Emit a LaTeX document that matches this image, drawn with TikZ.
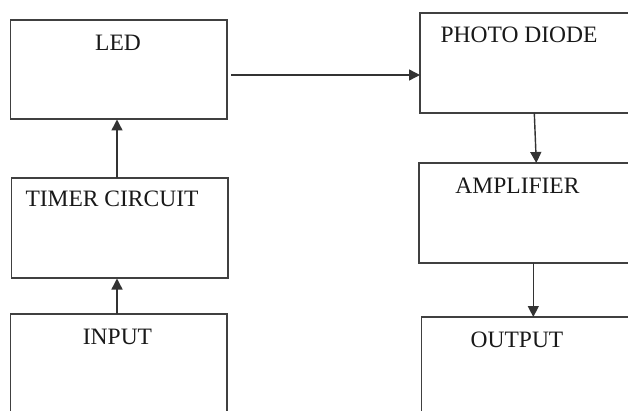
\documentclass[tikz,border=0pt]{standalone}
\usepackage{fontspec}
\setmainfont{Liberation Serif}
\usetikzlibrary{arrows.meta}
\begin{document}
\begin{tikzpicture}[x=1pt,y=-1pt,
  blk/.style={draw=black!75,line width=1.3pt,fill=none},
  lbl/.style={anchor=base,inner sep=0pt,text=black!90,font=\fontsize{23.5}{26}\selectfont},
  arr/.style={draw=black!80,line width=1.4pt,-{Triangle[length=11pt,width=11pt]}}]
\useasboundingbox[clip] (0,0) rectangle (628,411);
\fill[white] (0,0) rectangle (628,411);
% boxes
\draw[blk] (10.5,20) rectangle (227,119);
\node[inner sep=0pt,minimum size=0pt] (led) at (118.75,69.5) {};
\draw[blk] (11.5,178) rectangle (228,278);
\node[inner sep=0pt] (timer) at (119.75,228) {};
\draw[blk] (10.5,314) rectangle (227,470);
\node[inner sep=0pt] (input) at (118.75,392) {};
\draw[blk] (420,13) rectangle (700,113);
\node[inner sep=0pt] (pd) at (560,63) {};
\draw[blk] (419,163) rectangle (700,263);
\node[inner sep=0pt] (amp) at (560,213) {};
\draw[blk] (421.5,317) rectangle (700,470);
\node[inner sep=0pt] (out) at (560,393) {};
% anchor coordinates on box edges
\coordinate (ledR) at (231,75);
\coordinate (ledB) at (117,119.5);
\coordinate (timerT) at (117,178);
\coordinate (timerB) at (117,278.5);
\coordinate (inputT) at (117,314);
\coordinate (pdL) at (420,75);
\coordinate (pdB) at (534.3,113);
\coordinate (ampT) at (536.3,163);
\coordinate (ampB) at (533.3,263);
\coordinate (outT) at (533.3,317);
% labels
\node[lbl] (ledt) at (118,51) {LED};
\node[lbl] (timert) at (112,207) {TIMER CIRCUIT};
\node[lbl] (inputt) at (117.5,344) {INPUT};
\node[lbl] (pdt) at (519,43) {PHOTO DIODE};
\node[lbl] (ampt) at (517.5,194) {AMPLIFIER};
\node[lbl] (outt) at (517,347) {OUTPUT};
% connectors
\draw[arr] (ledR) -- (pdL);
\draw[arr] (timerT) -- (ledB);
\draw[arr] (inputT) -- (timerB);
\draw[arr] (pdB) -- (ampT);
\draw[arr] (ampB) -- (outT);
\end{tikzpicture}
\end{document}
